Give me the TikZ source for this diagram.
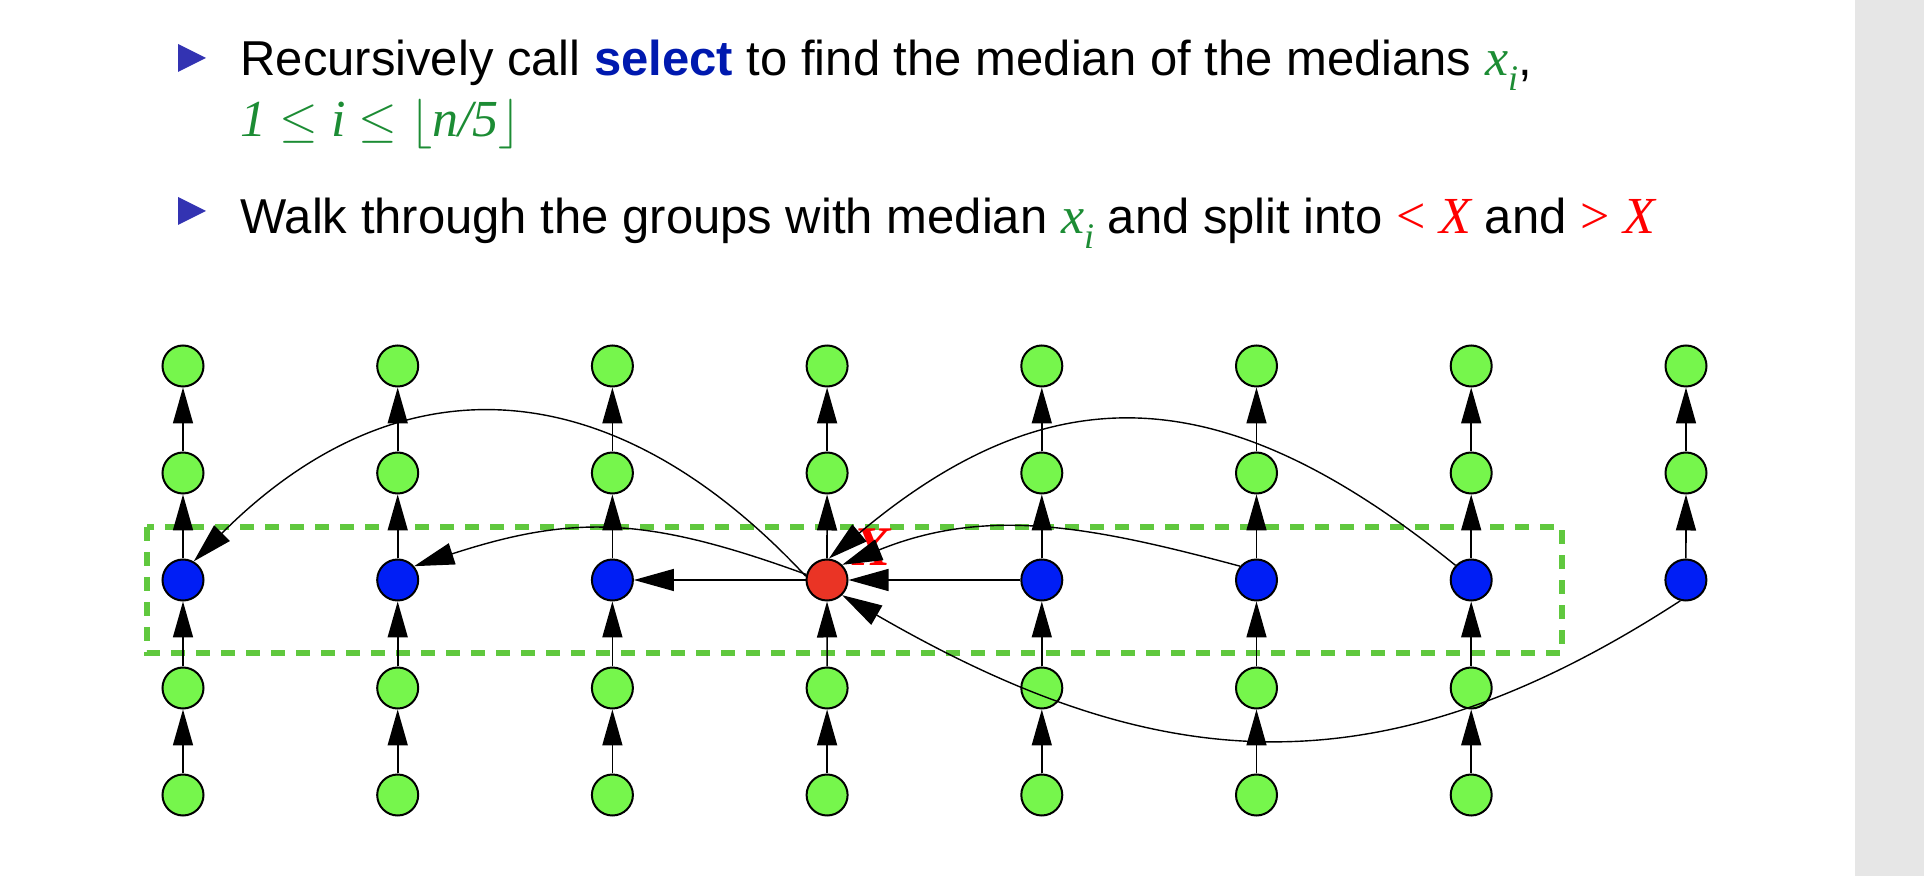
\documentclass[tikz,border=0pt]{standalone}
\usepackage{fontspec}
\setmainfont{Liberation Sans}
\newfontfamily\timesfont{Liberation Serif}
\usetikzlibrary{arrows.meta}
\definecolor{nodegreen}{RGB}{118,246,76}
\definecolor{nodeblue}{RGB}{0,30,245}
\definecolor{nodered}{RGB}{234,52,37}
\definecolor{boxgreen}{RGB}{96,200,62}
\definecolor{mathgreen}{RGB}{28,140,52}
\definecolor{selblue}{RGB}{0,25,175}
\definecolor{bulletblue}{RGB}{51,51,178}
\definecolor{panelgray}{RGB}{230,230,230}
\newcommand{\tmit}[1]{{\timesfont\itshape\fontsize{26}{28}\selectfont #1}}
\newcommand{\xsubi}{\tmit{x}\raisebox{-0.3em}{\timesfont\itshape\fontsize{18}{18}\selectfont i}}

\begin{document}
\begin{tikzpicture}[x=0.5pt, y=-0.5pt,
  elem/.style={circle, draw=black, line width=1pt, minimum size=20.5pt, inner sep=0pt},
  up/.style={-{Triangle[length=18pt, width=10pt]}, line width=0.8pt},
  link/.style={-{Triangle[length=20pt, width=11pt]}, line width=0.7pt},
  txt/.style={anchor=base west, inner sep=0pt, font=\fontsize{24.5}{28}\selectfont}]
  \useasboundingbox (0,0) rectangle (1924,876);
  % right margin of the slide
  \fill[panelgray] (1855,0) rectangle (1924,876);
  % bullets and text
  \fill[bulletblue] (178,44) -- (206,58) -- (178,72) -- cycle;
  \fill[bulletblue] (178,197) -- (206,211) -- (178,225) -- cycle;
  \node[txt] (line1) at (240,76) {Recursively call \textcolor{selblue}{\bfseries select} to find the median of the medians \textcolor{mathgreen}{\xsubi},};
  \node[txt, text=mathgreen] (line2) at (240,137) {\tmit{1 $\leq$ i $\leq$ $\lfloor$n/5$\rfloor$}};
  \node[txt] (line3) at (240,234) {Walk through the groups with median \textcolor{mathgreen}{\xsubi} and split into \textcolor{red}{\tmit{\upshape <} \tmit{X}} and \textcolor{red}{\tmit{\upshape >} \tmit{X}}};
  % dashed box round the medians
  \draw[boxgreen, line width=2.8pt, dash pattern=on 7pt off 5.5pt] (147,527) rectangle (1562,653);
  % groups of five
  \foreach \c in {1,...,7}{
    \foreach \r/\y in {1/366, 2/473, 4/688, 5/795}
      \node[elem, fill=nodegreen] (v\c-\r) at ({183+214.7*(\c-1)},\y) {};
  }
  \foreach \r/\y in {1/366, 2/473}
    \node[elem, fill=nodegreen] (v8-\r) at (1686,\y) {};
  % medians
  \foreach \c in {1,2,3,5,6,7,8}
    \node[elem, fill=nodeblue] (v\c-3) at ({183+214.7*(\c-1)},580) {};
  \node[elem, fill=nodered] (v4-3) at (827,580) {};
  \node[text=red, font=\timesfont\itshape\bfseries\fontsize{28}{30}\selectfont] (xlab) at (872,547) {X};
  % order inside each group
  \foreach \c in {1,...,7}{
    \foreach \a/\b in {5/4, 4/3, 3/2, 2/1}
      \draw[up] (v\c-\a) -- (v\c-\b);
  }
  \foreach \a/\b in {3/2, 2/1}
    \draw[up] (v8-\a) -- (v8-\b);
  % split against X
  \draw[link] (v4-3.170) to[out=133, in=45, looseness=1.2] (v1-3.60);
  \draw[link] (v4-3.165) to[out=160, in=18, looseness=1.1] (v2-3.40);
  \draw[link] (v4-3) -- (v3-3);
  \draw[link] (v5-3) -- (v4-3);
  \draw[link] (v6-3.140) to[out=165, in=22] (v4-3.45);
  \draw[link] (v7-3.137) to[out=141, in=40, looseness=1.2] (v4-3.85);
  \draw[link] (v8-3.255) to[out=213, in=-30, looseness=1.1] (v4-3.-45);
\end{tikzpicture}
\end{document}
